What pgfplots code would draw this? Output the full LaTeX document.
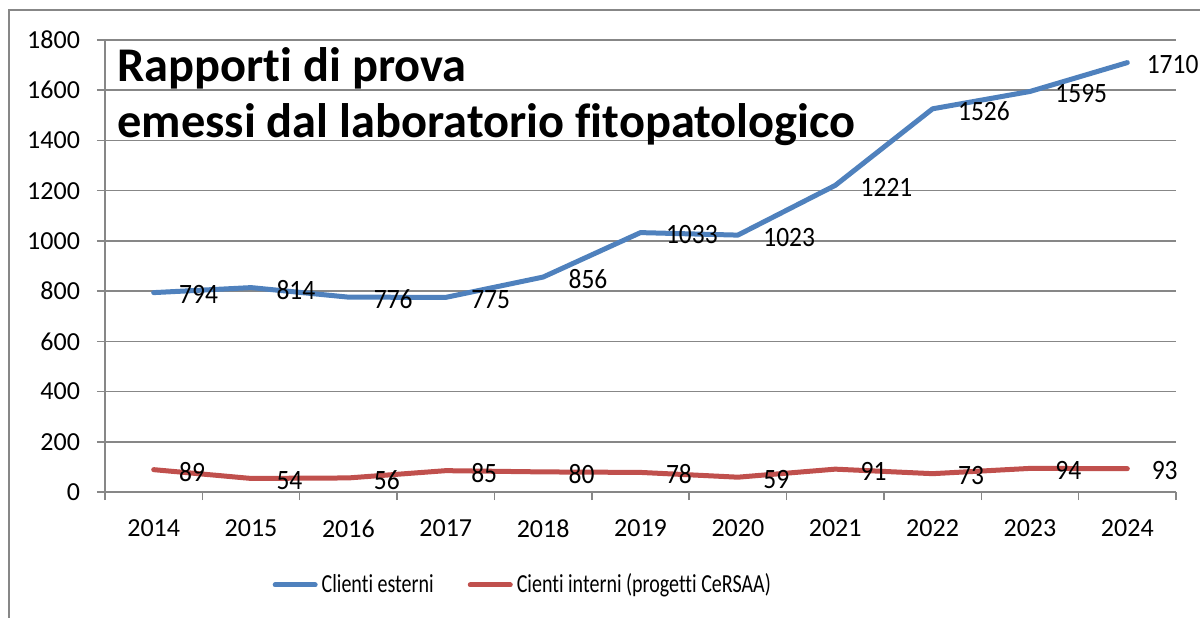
\documentclass[border=0pt]{standalone}
\usepackage{pgfplots}
\usepackage{pgfplotstable}
\pgfplotsset{compat=1.18}
\usepackage{fontspec}
\setmainfont{Carlito}[Ligatures={NoCommon,NoContextual}]
\newfontfamily\legfont{Carlito}[FakeStretch=0.77, Ligatures={NoCommon,NoContextual}]
\newfontfamily\labfont{Carlito}[FakeStretch=0.91]
\definecolor{serblue}{HTML}{4F81BD}
\definecolor{serred}{HTML}{C0504D}
\definecolor{gridgray}{HTML}{878787}
\pgfplotstableread{
x y dx
0 794 11.5
1 814 11.5
2 776 11.5
3 775 11.5
4 856 11.5
5 1033 11.5
6 1023 11.5
7 1221 11.5
8 1526 11.5
9 1595 11.5
10 1710 8.5
}\blue
\pgfplotstableread{
x y dx
0 89 11.5
1 54 11.5
2 56 11.5
3 85 11.5
4 80 11.5
5 78 11.5
6 59 11.5
7 91 11.5
8 73 11.5
9 94 11.5
10 93 11
}\red
\begin{document}
\begin{tikzpicture}
\useasboundingbox (0,0) rectangle (600pt,308.5pt);
\draw[gridgray, line width=0.75pt] (4.5pt,-20pt) -- (4.5pt,303.5pt) -- (640pt,303.5pt);
\begin{axis}[
  at={(52.5pt,62.5pt)}, anchor=south west,
  scale only axis, width=535.5pt, height=226pt,
  xmin=-0.5, xmax=10.5, ymin=0, ymax=1800,
  axis x line*=bottom, axis y line*=left,
  axis line style={gridgray, line width=0.75pt},
  xtick={0,...,10},
  xticklabels={2014,2015,2016,2017,2018,2019,2020,2021,2022,2023,2024},
  major x tick style={draw=none},
  minor xtick={-0.5,0.5,...,10.5},
  minor x tick style={gridgray, line width=0.75pt},
  minor tick length=4pt,
  ytick={0,200,...,1800},
  major tick length=4pt,
  y tick style={gridgray, line width=0.75pt},
  tick align=outside,
  ymajorgrids, grid style={gridgray, line width=0.75pt},
  /pgf/number format/1000 sep={},
  /pgf/number format/assume math mode=true,
  tick label style={font=\fontsize{13}{15}\selectfont, text=black},
  xticklabel style={yshift=-6.3pt},
  yticklabel style={xshift=-5pt},
  legend columns=2,
  legend style={draw=none, fill=none, at={(0.391,-0.2057)}, anchor=center,
    font=\legfont\fontsize{13}{15}\selectfont, inner sep=0pt,
    /tikz/every even column/.append style={column sep=15pt}},
  legend image code/.code={\draw[#1, line cap=round] (0pt,0pt) -- (20pt,0pt);},
  visualization depends on={\thisrow{dx} \as \dx},
  nodes near coords={\pgfmathprintnumber[assume math mode=true]{\pgfplotspointmeta}},
  every node near coord/.append style={anchor=west, xshift=\dx pt, yshift=-1pt, inner sep=0pt,
     font=\labfont\fontsize{14}{16}\selectfont, text=black},
]
\addplot[serblue, line width=2.5pt, line cap=round, line join=round, mark=none] table[x=x, y=y] {\blue};
\addlegendentry{Clienti esterni}
\addplot[serred, line width=2.5pt, line cap=round, line join=round, mark=none] table[x=x, y=y] {\red};
\addlegendentry{Cienti interni (progetti CeRSAA)}
\end{axis}
\node[anchor=base west, inner sep=0pt, font=\bfseries\fontsize{24.2}{29}\selectfont] at (58.5pt,267.5pt) {Rapporti di prova};
\node[anchor=base west, inner sep=0pt, font=\bfseries\fontsize{24.2}{29}\selectfont] at (58.5pt,239.5pt) {emessi dal laboratorio fitopatologico};
\end{tikzpicture}
\end{document}
